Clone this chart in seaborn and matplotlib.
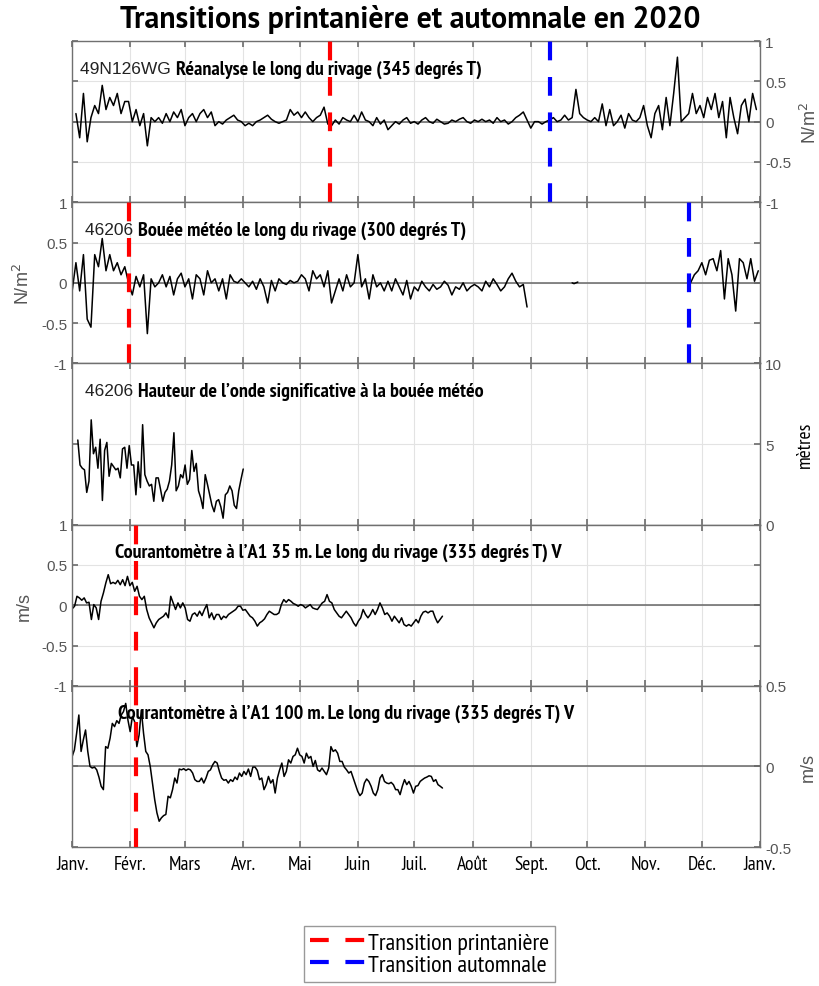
import numpy as np
import pandas as pd
import seaborn as sns
import matplotlib
import matplotlib.pyplot as plt
from matplotlib import font_manager as fm
from matplotlib.lines import Line2D

# values
reanalyse = [0.1, -0.2, 0.35, -0.25, 0.05, 0.2, 0.1, 0.45, 0.15, 0.3, 0.2, 0.35, 0.1, 0.25, 0.25,
             0.0, 0.15, -0.05, 0.1, -0.3, 0.05, 0.0, 0.05, -0.02, 0.1, 0.0, 0.12, 0.05, 0.15, -0.05,
             0.05, 0.1, 0.0, 0.1, 0.15, 0.05, 0.12, -0.05, 0.0, -0.03, 0.02, 0.05, 0.08, 0.02, 0.0,
             -0.05, -0.02, -0.05, 0.0, 0.02, 0.05, 0.08, 0.03, 0.0, -0.02, 0.0, 0.02, 0.15, 0.08, 0.12,
             0.05, 0.12, 0.05, 0.0, 0.05, 0.08, 0.18, -0.03, -0.05, 0.02, -0.03, 0.05, 0.02, 0.0, 0.08,
             0.0, 0.12, 0.02, 0.0, -0.05, 0.05, -0.03, 0.02, -0.1, -0.05, 0.0, -0.03, 0.02, 0.05, -0.02,
             0.0, -0.03, 0.02, 0.05, 0.0, -0.02, 0.03, 0.0, -0.03, -0.02, 0.02, 0.0, 0.03, 0.05, 0.0,
             -0.02, 0.02, 0.0, 0.03, 0.0, 0.02, -0.02, 0.05, 0.0, 0.02, -0.03, 0.0, 0.05, 0.08, 0.12,
             0.02, -0.08, 0.0, 0.0, -0.03, 0.0, 0.02, 0.05, 0.0, 0.02, 0.08, 0.02, 0.05, 0.4, 0.1,
             0.05, 0.02, 0.0, 0.05, 0.0, 0.22, -0.05, 0.15, -0.05, 0.0, 0.08, -0.08, 0.1, 0.02, 0.0,
             0.05, 0.2, -0.05, -0.2, 0.1, 0.2, -0.1, 0.3, -0.05, 0.35, 0.8, 0.0, 0.05, 0.1, 0.35,
             0.1, 0.2, 0.05, 0.3, 0.15, 0.35, 0.05, 0.25, -0.2, 0.3, 0.05, -0.15, 0.2, 0.28, 0.0, 0.35, 0.15]

bouee_a = [-0.1, 0.25, -0.1, 0.35, -0.45, -0.55, 0.35, 0.2, 0.55, 0.15, 0.35, 0.15, 0.25, 0.1, 0.2, 0.0,
           -0.15, 0.08, -0.05, 0.1, -0.63, 0.05, -0.05, 0.0, 0.1, -0.05, 0.08, -0.15, 0.05, 0.12,
           -0.05, 0.05, -0.2, 0.1, 0.05, -0.15, 0.15, 0.0, 0.05, -0.1, 0.05, -0.2, 0.1, 0.02, 0.0,
           0.05, 0.0, -0.05, 0.02, -0.08, 0.05, -0.05, -0.25, 0.03, -0.1, 0.05, 0.0, -0.02, 0.03, 0.0,
           0.02, 0.1, 0.05, -0.1, 0.15, 0.05, 0.1, -0.05, 0.15, -0.25, -0.1, 0.05, -0.1, 0.1, -0.05,
           0.0, 0.35, -0.05, 0.05, -0.2, 0.1, -0.05, 0.0, -0.1, 0.02, -0.1, 0.05, -0.05, -0.15, 0.03,
           -0.2, -0.05, -0.1, 0.02, -0.05, -0.1, -0.02, -0.08, -0.05, 0.02, -0.03, -0.15, -0.05, -0.08, 0.0,
           -0.1, -0.05, -0.02, -0.05, -0.1, 0.02, -0.05, 0.05, -0.02, -0.1, -0.05, 0.05, 0.12, 0.02, -0.05, -0.02, -0.3]
bouee_b = [0.0, -0.01, 0.0, 0.01]
bouee_c = [0.0, 0.1, 0.15, 0.25, 0.1, 0.28, 0.3, 0.15, 0.4, -0.2, 0.3, 0.1, -0.35, 0.3, 0.25, 0.05, 0.3, 0.02, 0.15]

hauteur = [5.25, 3.7, 3.5, 3.4, 2.0, 2.7, 6.5, 4.4, 4.8, 3.5, 5.3, 1.5, 4.6, 5.1, 3.0, 3.8, 3.6, 3.4, 3.5,
           2.9, 4.7, 4.8, 3.5, 4.9, 3.7, 3.7, 1.85, 3.9, 2.3, 6.2, 3.1, 2.7, 2.4, 2.5, 1.45, 2.9, 2.9, 2.2,
           1.45, 2.0, 2.2, 2.7, 3.7, 5.7, 2.1, 2.4, 3.1, 2.9, 3.7, 2.5, 2.8, 4.6, 3.3, 3.8, 2.1, 1.65, 1.0,
           3.1, 2.5, 1.85, 1.2, 0.8, 1.45, 1.55, 1.1, 0.4, 1.85, 2.0, 2.4, 2.1, 1.2, 1.0, 2.1, 2.8, 3.45]

courant35 = [-0.045, -0.012, 0.111, 0.091, 0.062, 0.091, 0.029, 0.037, -0.177, 0.008, -0.033, -0.177, 0.049,
             0.152, 0.276, 0.379, 0.267, 0.284, 0.267, 0.309, 0.255, 0.317, 0.243, 0.358, 0.243, 0.284, 0.173,
             0.235, 0.111, 0.070, 0.111, -0.053, -0.156, -0.218, -0.280, -0.218, -0.177, -0.156, -0.136, -0.095,
             -0.156, 0.111, 0.029, -0.053, 0.029, -0.033, 0.029, -0.033, -0.177, -0.198, -0.115, -0.095, -0.136,
             -0.074, -0.128, -0.053, 0.008, -0.156, -0.095, -0.177, -0.115, -0.115, -0.177, -0.136, -0.156,
             -0.115, -0.095, -0.074, -0.053, -0.012, -0.012, -0.062, -0.053, -0.095, -0.136, -0.156, -0.198,
             -0.259, -0.218, -0.198, -0.169, -0.115, -0.074, -0.095, -0.115, -0.115, -0.095, 0.008, 0.070, 0.037,
             0.070, 0.049, 0.021, 0.008, -0.012, 0.008, -0.004, -0.033, -0.012, 0.008, -0.033, -0.045, -0.053,
             -0.012, 0.029, 0.049, 0.132, 0.049, 0.029, -0.053, -0.095, -0.136, -0.156, -0.115, -0.074, -0.115,
             -0.156, -0.218, -0.259, -0.198, -0.156, -0.053, -0.115, -0.156, -0.115, -0.053, -0.115, -0.053,
             0.029, -0.033, -0.115, -0.095, -0.136, -0.198, -0.136, -0.177, -0.218, -0.156, -0.239, -0.259,
             -0.239, -0.259, -0.218, -0.177, -0.218, -0.136, -0.086, -0.074, -0.095, -0.074, -0.074, -0.156,
             -0.218, -0.177, -0.136]

courant100 = [0.062, 0.103, 0.206, 0.319, 0.093, 0.165, 0.226, 0.093, 0.0, -0.010, -0.004, -0.021, -0.066,
              -0.123, -0.144, 0.123, 0.113, 0.175, 0.267, 0.247, 0.284, 0.267, 0.319, 0.340, 0.391, 0.288,
              0.216, 0.309, 0.278, 0.123, 0.195, 0.350, 0.206, 0.093, 0.072, 0.0, -0.103, -0.206, -0.288,
              -0.340, -0.319, -0.305, -0.298, -0.185, -0.195, -0.144, -0.072, -0.103, -0.016, -0.021, -0.014,
              -0.025, -0.016, -0.021, -0.041, -0.082, -0.093, -0.093, -0.072, -0.103, -0.072, -0.031, -0.021,
              0.010, 0.031, 0.021, -0.031, -0.072, -0.086, -0.082, -0.103, -0.082, -0.093, -0.066, -0.082,
              -0.041, -0.062, -0.031, -0.051, -0.016, -0.062, -0.004, -0.004, -0.025, -0.082, -0.072, -0.144,
              -0.113, -0.062, -0.103, -0.082, -0.165, -0.072, -0.021, 0.021, -0.062, -0.031, 0.041, 0.021,
              0.062, 0.072, 0.113, 0.072, 0.062, 0.021, 0.082, 0.051, 0.062, 0.0, 0.037, -0.021, -0.031,
              -0.010, -0.031, -0.051, -0.010, 0.123, 0.093, 0.103, 0.082, 0.031, 0.031, -0.004, -0.021, -0.041,
              -0.031, -0.072, -0.113, -0.154, -0.181, -0.165, -0.103, -0.078, -0.093, -0.123, -0.165, -0.181,
              -0.144, -0.072, -0.051, -0.093, -0.103, -0.107, -0.099, -0.113, -0.144, -0.144, -0.175, -0.123,
              -0.082, -0.113, -0.093, -0.123, -0.165, -0.123, -0.119, -0.093, -0.082, -0.072, -0.066, -0.058,
              -0.062, -0.093, -0.082, -0.113, -0.123, -0.134]

spring_dates = ['2020-05-17', '2020-01-31', None, '2020-02-04', '2020-02-04']
autumn_dates = ['2020-09-11', '2020-11-24', None, None, None]

month_labels = ['Janv.', 'Févr.', 'Mars', 'Avr.', 'Mai', 'Juin', 'Juil.', 'Août',
                'Sept.', 'Oct.', 'Nov.', 'Déc.', 'Janv.']

codes = ['49N126WG', '46206', '46206', '', '']
titles = ['Réanalyse le long du rivage (345 degrés T)',
          'Bouée météo le long du rivage (300 degrés T)',
          'Hauteur de l\u2019onde significative à la bouée météo',
          'Courantomètre à l\u2019A1 35 m. Le long du rivage (335 degrés T) V',
          'Courantomètre à l\u2019A1 100 m. Le long du rivage (335 degrés T) V']


def make_df(vals, start, end=None, freq=None):
    if end is not None:
        dates = pd.date_range(start, end, periods=len(vals))
    else:
        dates = pd.date_range(start, periods=len(vals), freq=freq)
    return pd.DataFrame({'date': dates, 'val': vals})


def pick_font(candidates, need_bold=False, fallback='DejaVu Sans'):
    '''first installed family of the list (with a static bold face when asked)'''
    weights = {}
    for f in fm.fontManager.ttflist:
        weights.setdefault(f.name, set()).add(int(f.weight) if str(f.weight).isdigit() else 400)
    for c in candidates:
        if c in weights:
            if not need_bold or max(weights[c]) >= 600:
                return c
    return fallback


series = [
    [make_df(reanalyse, '2020-01-03', freq='2D')],
    [make_df(bouee_a, '2020-01-01', freq='2D'),
     make_df(bouee_b, '2020-09-23', freq='D'),
     make_df(bouee_c, '2020-11-25', freq='2D')],
    [make_df(hauteur, '2020-01-04', end='2020-04-01')],
    [make_df(courant35, '2020-01-01', end='2020-07-16')],
    [make_df(courant100, '2020-01-01', end='2020-07-16')],
]

narrow_list = ['PT Sans Narrow', 'Archivo Narrow', 'Roboto Condensed', 'Fira Sans Condensed',
               'IBM Plex Sans Condensed', 'Encode Sans Condensed', 'Asap Condensed',
               'Barlow Condensed', 'Open Sans Condensed', 'Liberation Sans Narrow']
narrow_bold = pick_font(narrow_list, need_bold=True)
narrow_reg = pick_font(narrow_list)
title_font = pick_font(['Source Sans 3', 'Source Sans Pro', 'PT Sans', 'Open Sans'], need_bold=True)

sns.set_theme(style='white')
plt.rcParams['font.family'] = ['Liberation Sans', 'DejaVu Sans']

fig, axs = plt.subplots(nrows=5, ncols=1, sharex=True)
fig.set_size_inches(8.2, 9.87)
fig.subplots_adjust(left=0.088, right=0.927, top=0.9574, bottom=0.1408, hspace=0)

grey = '#555555'
ylims = [(-1, 1), (-1, 1), (0, 10), (-1, 1), (-0.5, 0.5)]
yticks = [[-1, -0.5, 0, 0.5, 1], [-1, -0.5, 0, 0.5, 1], [0, 5, 10],
          [-1, -0.5, 0, 0.5, 1], [-0.5, 0, 0.5]]
sides = ['right', 'left', 'right', 'left', 'right']
ylabels = ['N/m$^2$', 'N/m$^2$', 'mètres', 'm/s', 'm/s']
month_ticks = pd.date_range('2020-01-01', '2021-01-01', freq='MS')
caption_x = [0.012, 0.018, 0.018, 0.055, 0.06]

for i, ax in enumerate(axs):
    for d in series[i]:
        sns.lineplot(data=d, x='date', y='val', color='black', linewidth=1.1, ax=ax)
    if i != 2:
        ax.axhline(0, color='#666666', linewidth=1.1, zorder=1)
    if spring_dates[i]:
        ax.axvline(pd.Timestamp(spring_dates[i]), color='#ff0000', linewidth=3,
                   dashes=(4.5, 4), zorder=3)
    if autumn_dates[i]:
        ax.axvline(pd.Timestamp(autumn_dates[i]), color='#0000ff', linewidth=3,
                   dashes=(4.5, 4), zorder=3)

    ax.set_ylim(*ylims[i])
    ax.set_yticks(yticks[i])
    ax.set_yticklabels(['{:g}'.format(t) for t in yticks[i]])
    ax.set_xlim(pd.Timestamp('2020-01-01'), pd.Timestamp('2021-01-01'))
    ax.set_xticks(month_ticks)
    ax.grid(True, color='#e3e3e3', linewidth=0.8)
    ax.set_axisbelow(True)
    for sp in ax.spines.values():
        sp.set_color('#707070')
        sp.set_linewidth(1.0)
    ax.tick_params(axis='both', direction='in', length=4, color='#707070',
                   top=True, bottom=True, left=True, right=True,
                   labelcolor=grey, labelsize=11)
    if sides[i] == 'right':
        ax.yaxis.tick_right()
        ax.yaxis.set_label_position('right')
        ax.tick_params(axis='y', left=True, right=True, labelleft=False, labelright=True)
    else:
        ax.tick_params(axis='y', left=True, right=True, labelleft=True, labelright=False)

    if i == 2:
        ax.set_ylabel(ylabels[i], color='black', fontsize=14, family=narrow_reg, labelpad=10)
    else:
        ax.set_ylabel(ylabels[i], color=grey, fontsize=13, labelpad=6)
    ax.set_xlabel('')

    # panel captions: plain station code followed by bold condensed description
    code_txt = ax.text(caption_x[i], 0.83, codes[i] + ' ', transform=ax.transAxes, fontsize=12.5,
                       color='#222222', va='center', ha='left')
    ax.annotate(titles[i], xy=(1, 0.5), xycoords=code_txt, va='center', ha='left',
                fontsize=14.5, fontweight='bold', family=narrow_bold, color='black')

axs[-1].set_xticklabels(month_labels, family=narrow_reg, fontsize=14, color='black')
axs[-1].tick_params(axis='x', labelcolor='black', pad=6)

fig.suptitle('Transitions printanière et automnale en 2020', fontsize=21.5, color='black',
             fontweight='bold', family=title_font, y=0.995, x=0.5)

handles = [Line2D([0], [0], color='#ff0000', linewidth=3, dashes=(4.5, 4)),
           Line2D([0], [0], color='#0000ff', linewidth=3, dashes=(4.5, 4))]
leg = fig.legend(handles, ['Transition printanière', 'Transition automnale'],
                 loc='upper center', bbox_to_anchor=(0.524, 0.061), frameon=True,
                 fancybox=False, prop={'family': narrow_reg, 'size': 17.5},
                 handlelength=2.3, handletextpad=0.1, labelspacing=0.0,
                 borderpad=0.25, borderaxespad=0)
leg.get_frame().set_edgecolor('#808080')
leg.get_frame().set_linewidth(1.0)
for t in leg.get_texts():
    t.set_color('black')

plt.savefig('out.png', dpi=100)
